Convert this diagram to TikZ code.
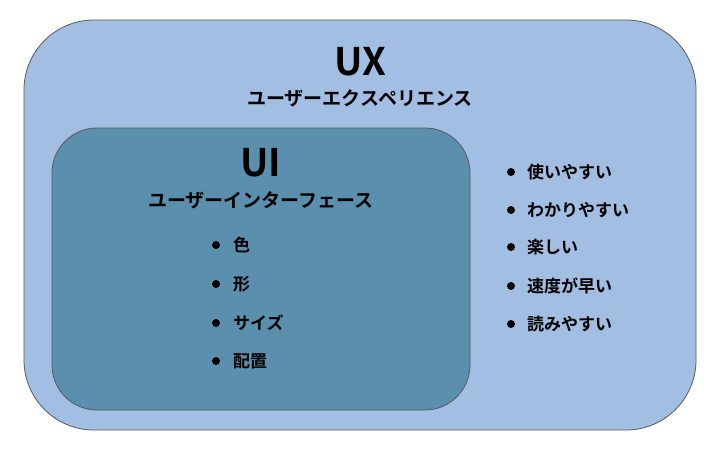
\documentclass[tikz,border=0pt]{standalone}
\usepackage{fontspec}
\setmainfont{Noto Sans CJK JP}[BoldFont={* Bold}]
\begin{document}
\begin{tikzpicture}[x=1pt,y=-1pt,
  item/.style={anchor=west,font=\bfseries\fontsize{17}{20}\selectfont,inner sep=0pt},
  dot/.style={circle,fill=black,inner sep=0pt,minimum size=8pt}]
\useasboundingbox (0,0) rectangle (720,450);
\fill[white] (0,0) rectangle (720,450);
\node[draw=gray!70!black,line width=0.8pt,fill={rgb,255:red,163;green,190;blue,227},rounded corners=70pt,minimum width=672pt,minimum height=410pt] (ux) at (360,225) {};
\node[draw=gray!70!black,line width=0.8pt,fill={rgb,255:red,91;green,143;blue,174},rounded corners=45pt,minimum width=418pt,minimum height=282pt] (ui) at (261,269) {};
\node[font=\bfseries\fontsize{38}{40}\selectfont] (uxt) at (360,62) {UX};
\node[font=\bfseries\fontsize{19}{22}\selectfont] (uxs) at (360,98) {ユーザーエクスペリエンス};
\node[font=\bfseries\fontsize{38}{40}\selectfont] (uit) at (261,163) {UI};
\node[font=\bfseries\fontsize{19}{22}\selectfont] (uis) at (261,200) {ユーザーインターフェース};
\foreach \t/\y/\n in {色/245/a,形/284/b,サイズ/323/c,配置/361/d}{
  \node[dot] (d\n) at (216,\y) {};
  \node[item] (t\n) at (233,\y) {\t};
}
\foreach \t/\y/\n in {使いやすい/172/e,わかりやすい/210/f,楽しい/247/g,速度が早い/286/h,読みやすい/324/i}{
  \node[dot] (d\n) at (511,\y) {};
  \node[item] (t\n) at (527,\y) {\t};
}
\end{tikzpicture}
\end{document}
